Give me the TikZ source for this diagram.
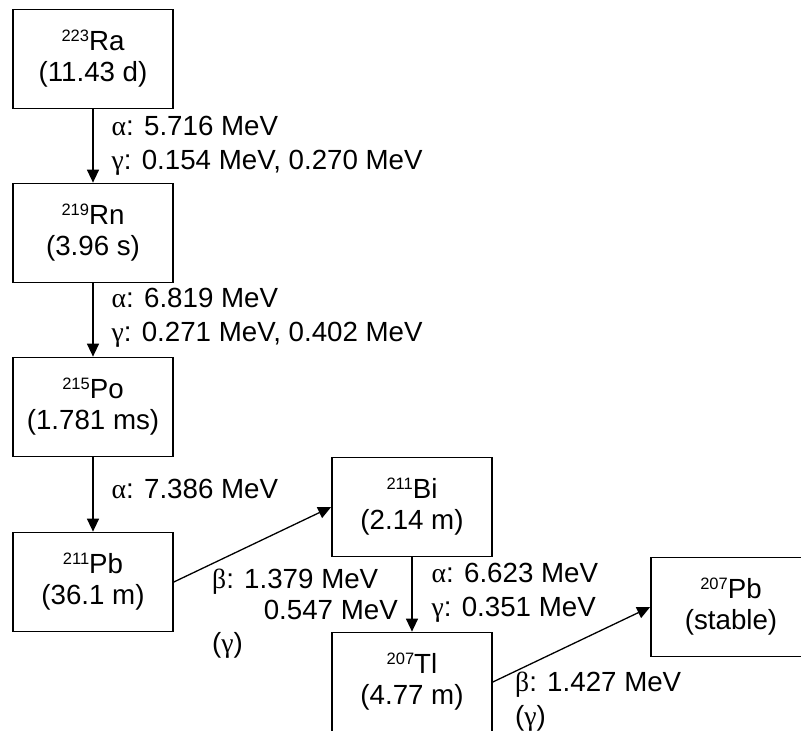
\documentclass[tikz,border=0pt]{standalone}
\usepackage{fontspec}
\setmainfont{Liberation Sans}
\newfontfamily\greekfont{Liberation Serif}
\usetikzlibrary{arrows.meta,positioning}
\newcommand{\iso}[2]{\raisebox{9pt}{\fontsize{16.5}{16}\selectfont #1}#2}
\newcommand{\galpha}{{\greekfont α}}
\newcommand{\ggamma}{{\greekfont γ}}
\newcommand{\gbeta}{{\greekfont β}}
\tikzstyle{nuclide} = [rectangle, draw, line width=1.7pt, 
    minimum width=160pt, minimum height=99pt, align=center, inner sep=0pt,
    font=\fontsize{27.7}{31}\selectfont]
\tikzstyle{decay} = [align=left, inner sep=0pt, font=\fontsize{27.7}{34}\selectfont]
\tikzstyle{line} = [draw, line width=1.3pt, -{Triangle[length=13pt,width=12pt]}]

\begin{document}
\begin{tikzpicture}[x=1pt,y=1pt,node distance=174pt]
    \useasboundingbox (0,0) rectangle (801,731);
    % Place nodes
    \node [nuclide] (ra223) at (93,672) {\iso{223}{Ra}\\(11.43 d)};
    \node [nuclide,below of=ra223] (rn219) {\iso{219}{Rn}\\(3.96 s)};
    \node [nuclide,below of=rn219] (po215) {\iso{215}{Po}\\(1.781 ms)};
    \node [nuclide,below of=po215,node distance=175pt] (pb211) {\iso{211}{Pb}\\(36.1 m)};
    \node [nuclide] (bi211) at (412,224) {\iso{211}{Bi}\\(2.14 m)};
    \node [nuclide,below of=bi211,node distance=175pt] (tl207) {\iso{207}{Tl}\\(4.77 m)};
    \node [nuclide] (pb207) at (731,124) {\iso{207}{Pb}\\(stable)};

    % Beta labels
    \node [decay,anchor=west] (beta1) at (212,149) {\gbeta: 1.379 MeV};
    \node [decay,anchor=east] (beta1b) at (398,121) {0.547 MeV};
    \node [decay,anchor=west] (gamma1) at (212,86) {(\ggamma)};
    \node [decay,anchor=west] (beta2) at (515,46) {\gbeta: 1.427 MeV};
    \node [decay,anchor=west] (gamma2) at (515,13) {(\ggamma)};

    % Draw edges
    \path [line] (ra223) -- node[decay,midway,right=18pt] {\galpha: 5.716 MeV\\\ggamma: 0.154 MeV, 0.270 MeV}(rn219);
    \path [line] (rn219) -- node[decay,midway,right=18pt,yshift=2pt] {\galpha: 6.819 MeV\\\ggamma: 0.271 MeV, 0.402 MeV}(po215);
    \path [line] (po215) -- node[decay,midway,right=18pt,yshift=6pt] {\galpha: 7.386 MeV}(pb211);
    \path [line] (bi211) -- node[decay,midway,right=19pt,yshift=2pt] {\galpha: 6.623 MeV\\\ggamma: 0.351 MeV}(tl207);

    \path [line] (pb211.east) -- (bi211.west);
    \path [line] (tl207.east) -- (pb207.west);

\end{tikzpicture}
\end{document}
